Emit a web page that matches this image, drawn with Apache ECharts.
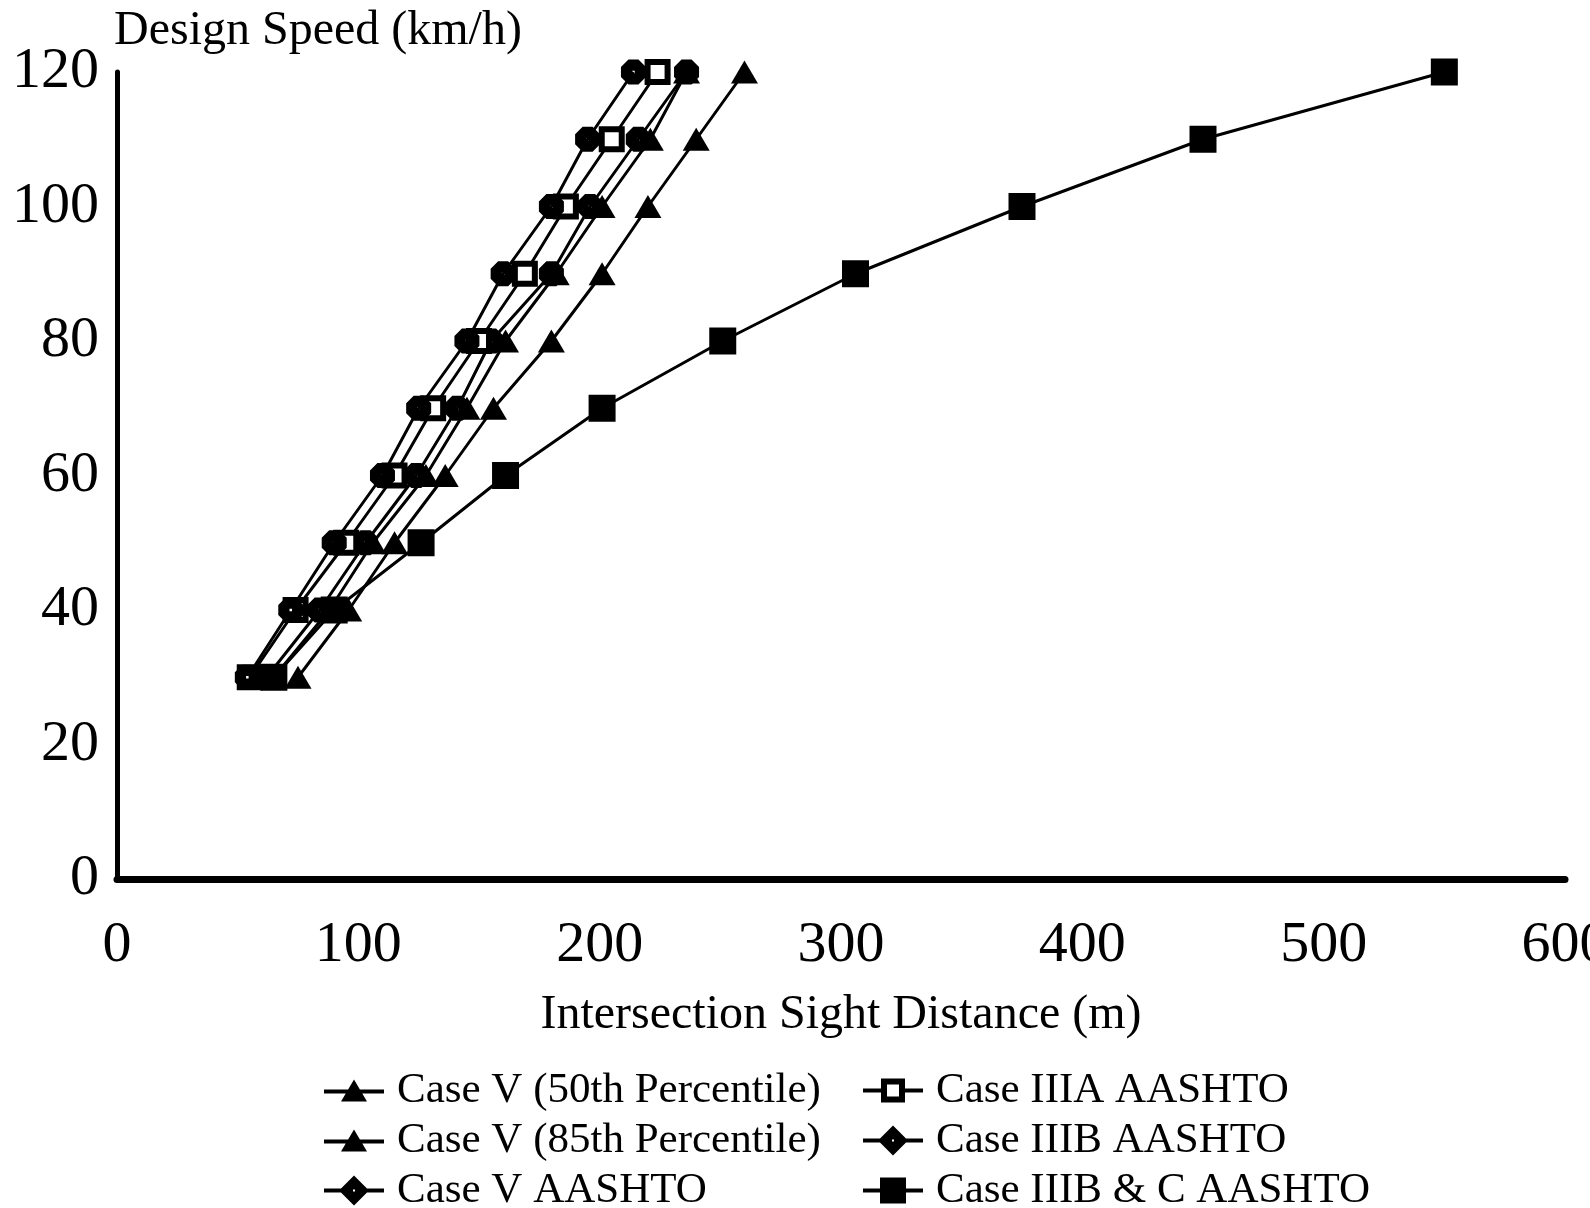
<!DOCTYPE html>
<html>
<head>
<meta charset="utf-8">
<script src="https://cdn.jsdelivr.net/npm/echarts@6/dist/echarts.min.js"></script>
<style>
  html, body { margin: 0; padding: 0; background: #fff; }
</style>
</head>
<body>
<div id="myEchart" style="width: 1590px;height:1208px"></div>
<script>
// design speeds (km/h)
const speeds = [30, 40, 50, 60, 70, 80, 90, 100, 110, 120]

// intersection sight distance (m) for each case
const caseV50 = [65, 88, 106, 128, 145, 161, 182, 201, 221, 236]
const caseV85 = [75, 96, 115, 136, 156, 180, 201, 220, 240, 260]
const caseVAashto = [62, 84, 103, 124, 141, 155, 180, 196, 216, 236]
const caseIIIA = [55, 74, 95, 115, 131, 150, 169, 186, 205, 224]
const caseIIIB = [54, 72, 90, 110, 125, 145, 160, 180, 195, 214]
const caseIIIBC = [65, 90, 126, 161, 201, 251, 306, 375, 450, 550]

const xTicks = [0, 100, 200, 300, 400, 500, 600]
const yTicks = [0, 20, 40, 60, 80, 100, 120]

const serif = '"Liberation Serif", "Times New Roman", serif'

// marker shapes
const octagon = 'path://M6,0L14,0L20,6L20,14L14,20L6,20L0,14L0,6Z M9,9L9,11L11,11L11,9Z'

// legend icons: line with marker in the middle (60 x 30)
const lineBits = 'M0,13L19,13L19,17L0,17Z M41,13L60,13L60,17L41,17Z '
const iconTriangle = 'path://' + lineBits + 'M30,3L43,25L17,25Z M19,13L41,13L41,17L19,17Z'
const iconDiamond = 'path://' + lineBits + 'M30,0L45,15L30,30L15,15Z M29,14L29,16L31,16L31,14Z'
const iconOpenSq = 'path://' + lineBits + 'M18,3L42,3L42,27L18,27Z M24,9L24,21L36,21L36,9Z'
const iconSquare = 'path://' + lineBits + 'M17,2L43,2L43,28L17,28Z'

const pairs = (arr) => arr.map((d, i) => [d, speeds[i]])

const baseSeries = {
    type: 'line',
    smooth: false,
    lineStyle: { color: '#000', width: 3 },
    itemStyle: { color: '#000' },
    symbolKeepAspect: false,
    animation: false,
}

let dataseries = [
    { ...baseSeries, name: 'Case V (50th Percentile)', data: pairs(caseV50), symbol: 'triangle', symbolSize: [27, 23] },
    { ...baseSeries, name: 'Case V (85th Percentile)', data: pairs(caseV85), symbol: 'triangle', symbolSize: [27, 23] },
    { ...baseSeries, name: 'Case V AASHTO', data: pairs(caseVAashto), symbol: octagon, symbolSize: 25 },
    {
        ...baseSeries, name: 'Case IIIA AASHTO', data: pairs(caseIIIA), symbol: 'rect', symbolSize: 20,
        itemStyle: { color: '#fff', borderColor: '#000', borderWidth: 6 }
    },
    { ...baseSeries, name: 'Case IIIB AASHTO', data: pairs(caseIIIB), symbol: octagon, symbolSize: 25 },
    { ...baseSeries, name: 'Case IIIB & C AASHTO', data: pairs(caseIIIBC), symbol: 'rect', symbolSize: 27 },
]

const legendBase = {
    orient: 'vertical',
    top: 1064,
    height: 220,
    itemWidth: 60,
    itemHeight: 30,
    itemGap: 7,
    textStyle: { fontFamily: serif, fontSize: 43, color: '#000', lineHeight: 43, padding: [0, 0, 0, 8] },
}

let option = {
    animation: false,
    backgroundColor: '#fff',
    grid: { left: 117, right: 25, top: 72, bottom: 329, outerBoundsMode: 'none', containLabel: false },
    graphic: [{
        type: 'text',
        left: 114,
        top: 7,
        style: { text: 'Design Speed (km/h)', font: '48px ' + serif, fill: '#000' }
    }],
    xAxis: {
        type: 'value',
        min: 0,
        max: 600,
        interval: 100,
        name: 'Intersection Sight Distance (m)',
        nameLocation: 'middle',
        nameGap: 112,
        nameTextStyle: { fontFamily: serif, fontSize: 48, color: '#000' },
        axisLine: { lineStyle: { color: '#000', width: 7 } },
        axisTick: { show: false },
        splitLine: { show: false },
        axisLabel: {
            fontFamily: serif, fontSize: 58, color: '#000', margin: 38,
            showMaxLabel: true, formatter: (v) => xTicks.includes(v) ? String(v) : ''
        },
    },
    yAxis: {
        type: 'value',
        min: 0,
        max: 120,
        interval: 20,
        axisLine: { show: true, lineStyle: { color: '#000', width: 5 } },
        axisTick: { show: false },
        splitLine: { show: false },
        axisLabel: {
            fontFamily: serif, fontSize: 58, color: '#000', margin: 18,
            formatter: (v) => yTicks.includes(v) ? String(v) : ''
        },
    },
    legend: [
        {
            ...legendBase, left: 319,
            data: [
                { name: 'Case V (50th Percentile)', icon: iconTriangle },
                { name: 'Case V (85th Percentile)', icon: iconTriangle },
                { name: 'Case V AASHTO', icon: iconDiamond },
            ]
        },
        {
            ...legendBase, left: 858,
            data: [
                { name: 'Case IIIA AASHTO', icon: iconOpenSq, itemStyle: { color: '#000', borderWidth: 0 } },
                { name: 'Case IIIB AASHTO', icon: iconDiamond },
                { name: 'Case IIIB & C AASHTO', icon: iconSquare },
            ]
        }
    ],
    series: dataseries,
}

var myChart = echarts.init(document.getElementById('myEchart'))
myChart.setOption(option)
</script>
</body>
</html>
